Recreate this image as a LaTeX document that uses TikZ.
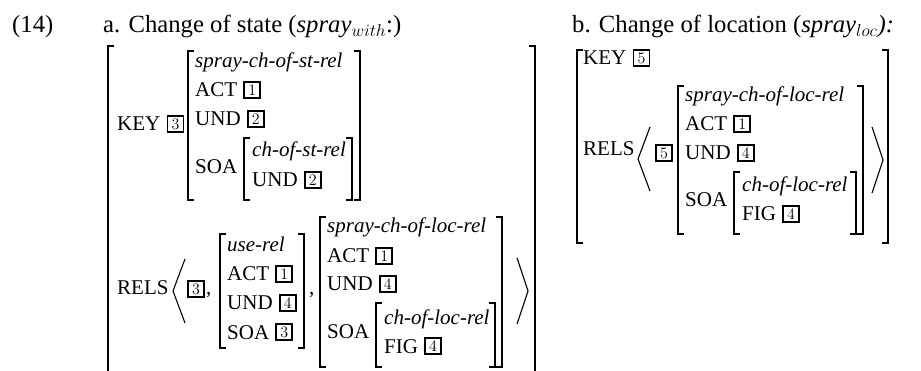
\documentclass[tikz,border=0pt]{standalone}
\usepackage{fix-cm}
\usepackage{fontspec}
\setmainfont{Liberation Serif}
\usetikzlibrary{positioning}

\newcommand\avmsize{\fontsize{21}{24}\selectfont}
\newcommand\titlesize{\fontsize{24.7}{29}\selectfont}
\newcommand\tagsize{\fontsize{16}{16}\selectfont}

\begin{document}
\begin{tikzpicture}
[x=1pt,y=-1pt,
 lbl/.style = {anchor=base west,inner sep=0pt,font=\avmsize},
 typ/.style = {lbl,font=\avmsize\itshape},
 ttl/.style = {anchor=base west,inner sep=0pt,font=\titlesize},
 tag/.style = {draw,line width=1.8pt,inner sep=0pt,minimum width=16pt,
        minimum height=16pt,font=\tagsize},
 brk/.style = {line width=1.3pt},
 ang/.style = {line width=1.1pt}]
\useasboundingbox (0,0) rectangle (921,371);
\clip (0,0) rectangle (921,371);

\node[ttl] (ex) at (12,33) {(14)};
\node[ttl] (heada) at (103,33) {a. Change of state (\textit{spray}$_{with}$:)};
\node[ttl] (headb) at (572,33) {b. Change of location (\textit{spray}$_{loc}$\textit{):}};

% a. outer matrix
\draw[brk] (114,46) -| (108,390);
\draw[brk] (529,46) -| (535,390);

% a. KEY
\node[lbl] (akey) at (117,131) {KEY};
\node[tag,right=6pt of akey] (akeytag) {$3$};
\draw[brk] (194,51) -| (188,200) -- ++(6,0);
\draw[brk] (354,51) -| (360,200) -- ++(-6,0);
\node[typ] (ksort) at (195,68) {spray-ch-of-st-rel};
\node[lbl] (kact) at (195,97) {ACT};
\node[tag,right=6pt of kact] (kacttag) {$1$};
\node[lbl] (kund) at (195,126) {UND};
\node[tag,right=6pt of kund] (kundtag) {$2$};
\node[lbl] (ksoa) at (195,174) {SOA};
\draw[brk] (250,138) -| (244,200) -- ++(6,0);
\draw[brk] (346,138) -| (352,200) -- ++(-6,0);
\node[typ] (ssort) at (252,157) {ch-of-st-rel};
\node[lbl] (sund) at (252,187) {UND};
\node[tag,right=6pt of sund] (sundtag) {$2$};

% a. RELS
\node[lbl] (arels) at (117,295) {RELS};
\draw[ang] (185,259) -- (173,291) -- (185,323);
\node[tag] (arelstag) at (196,289) {$3$};
\node[lbl] (acomma1) at (206,295) {,};
\draw[brk] (226,234) -| (220,348) -- ++(6,0);
\draw[brk] (298,234) -| (304,348) -- ++(-6,0);
\node[typ] (usort) at (227,252) {use-rel};
\node[lbl] (uact) at (227,281) {ACT};
\node[tag,right=6pt of uact] (uacttag) {$1$};
\node[lbl] (uund) at (227,310) {UND};
\node[tag,right=6pt of uund] (uundtag) {$4$};
\node[lbl] (usoa) at (227,339) {SOA};
\node[tag,right=6pt of usoa] (usoatag) {$3$};
\node[lbl] (acomma2) at (309,295) {,};
\draw[brk] (326,217) -| (320,367) -- ++(6,0);
\draw[brk] (496,217) -| (502,367) -- ++(-6,0);
\node[typ] (lsort) at (327,233) {spray-ch-of-loc-rel};
\node[lbl] (lact) at (327,263) {ACT};
\node[tag,right=6pt of lact] (lacttag) {$1$};
\node[lbl] (lund) at (327,291) {UND};
\node[tag,right=6pt of lund] (lundtag) {$4$};
\node[lbl] (lsoa) at (327,338) {SOA};
\draw[brk] (382,303) -| (376,367) -- ++(6,0);
\draw[brk] (489,303) -| (495,367) -- ++(-6,0);
\node[typ] (fsort) at (384,324) {ch-of-loc-rel};
\node[lbl] (ffig) at (384,353) {FIG};
\node[tag,right=6pt of ffig] (ffigtag) {$4$};
\draw[ang] (517,258) -- (528,291) -- (517,324);

% b. outer matrix
\draw[brk] (583,50) -| (577,243) -- ++(6,0);
\draw[brk] (882,50) -| (888,243) -- ++(-6,0);
\node[lbl] (bkey) at (583,65) {KEY};
\node[tag,right=6pt of bkey] (bkeytag) {$5$};
\node[lbl] (brels) at (583,156) {RELS};
\draw[ang] (650,127) -- (638,159) -- (650,191);
\node[tag] (brelstag) at (664,153) {$5$};
\draw[brk] (684,86) -| (678,234) -- ++(6,0);
\draw[brk] (857,86) -| (863,234) -- ++(-6,0);
\node[typ] (bsort) at (685,102) {spray-ch-of-loc-rel};
\node[lbl] (bact) at (685,131) {ACT};
\node[tag,right=6pt of bact] (bacttag) {$1$};
\node[lbl] (bund) at (685,160) {UND};
\node[tag,right=6pt of bund] (bundtag) {$4$};
\node[lbl] (bsoa) at (685,207) {SOA};
\draw[brk] (740,172) -| (734,234) -- ++(6,0);
\draw[brk] (850,172) -| (856,234) -- ++(-6,0);
\node[typ] (bfsort) at (742,192) {ch-of-loc-rel};
\node[lbl] (bfig) at (742,221) {FIG};
\node[tag,right=6pt of bfig] (bfigtag) {$4$};
\draw[ang] (872,127) -- (883,160) -- (872,193);
\end{tikzpicture}
\end{document}
